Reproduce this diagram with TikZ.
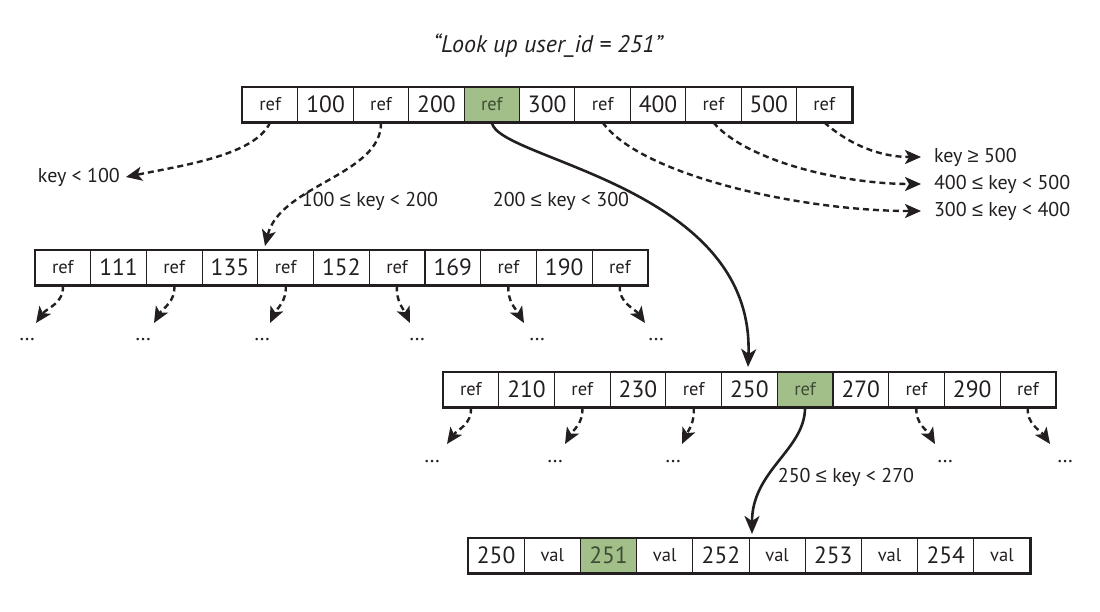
\documentclass[tikz,border=0pt]{standalone}
\usepackage{fontspec}
\setmainfont{PT Sans}
\newfontfamily\symfont{Liberation Sans}
\newcommand\myle{{\symfont ≤}}
\newcommand\myge{{\symfont ≥}}
\usetikzlibrary{arrows.meta}
\definecolor{hl}{RGB}{162,191,138}
\definecolor{hltext}{RGB}{62,76,52}
\definecolor{ink}{RGB}{35,31,32}
\begin{document}
\begin{tikzpicture}[x=1pt,y=-1pt,
  cell/.style={draw=ink, line width=0.8pt, minimum width=55.6pt, minimum height=35pt, inner sep=0pt, text=ink},
  frame/.style={draw=ink, line width=2.2pt},
  dasharrow/.style={draw=ink, line width=2.4pt, dash pattern=on 6pt off 4pt, -{Stealth[length=16pt,width=14pt,inset=4pt]}},
  solidarrow/.style={draw=ink, line width=2.6pt, -{Stealth[length=18pt,width=15pt,inset=5pt]}},
  lbl/.style={font=\fontsize{20}{20}\selectfont, inner sep=1pt, text=ink},
  lblr/.style={lbl, anchor=west, outer sep=12pt},
  dotsnode/.style={font=\fontsize{21}{21}\selectfont, inner sep=0pt, text=ink}
]
\useasboundingbox (0,0) rectangle (1100,611);
\fill[white] (0,0) rectangle (1100,611);

% title
\node[font=\itshape\fontsize{24}{24}\selectfont, text=ink] (title) at (548,46) {“Look up user\_id = 251”};

% top node
\foreach \t/\f/\c [count=\i] in {ref/white/ink,100/white/ink,ref/white/ink,200/white/ink,ref/hl/hltext,300/white/ink,ref/white/ink,400/white/ink,ref/white/ink,500/white/ink,ref/white/ink}
  \node[cell, fill=\f, text=\c] (t\i) at ({242.5+55.4*(\i-0.5)},104.5)
    {\ifodd\i\fontsize{18.5}{18.5}\selectfont\else\fontsize{23.5}{23.5}\selectfont\fi\t};
\draw[frame] (t1.north west) rectangle (t11.south east);

% middle-left node
\foreach \t [count=\i] in {ref,111,ref,135,ref,152,ref,169,ref,190,ref}
  \node[cell, fill=white] (m\i) at ({35+55.7*(\i-0.5)},267.5)
    {\ifodd\i\fontsize{18.5}{18.5}\selectfont\else\fontsize{23.5}{23.5}\selectfont\fi\t};
\draw[frame] (m1.north west) rectangle (m11.south east);

% lower node
\foreach \t/\f/\c [count=\i] in {ref/white/ink,210/white/ink,ref/white/ink,230/white/ink,ref/white/ink,250/white/ink,ref/hl/hltext,270/white/ink,ref/white/ink,290/white/ink,ref/white/ink}
  \node[cell, fill=\f, text=\c] (l\i) at ({443+55.7*(\i-0.5)},389.5)
    {\ifodd\i\fontsize{18.5}{18.5}\selectfont\else\fontsize{23.5}{23.5}\selectfont\fi\t};
\draw[frame] (l1.north west) rectangle (l11.south east);

% leaf node
\foreach \t/\f/\c [count=\i] in {250/white/ink,val/white/ink,251/hl/hltext,val/white/ink,252/white/ink,val/white/ink,253/white/ink,val/white/ink,254/white/ink,val/white/ink}
  \node[cell, fill=\f, text=\c, minimum width=56.2pt] (v\i) at ({468+56.2*(\i-0.5)},555.5)
    {\ifodd\i\fontsize{23.5}{23.5}\selectfont\else\fontsize{18.5}{18.5}\selectfont\fi\t};
\draw[frame] (v1.north west) rectangle (v10.south east);

% labels
\node[lbl, anchor=east] (k100) at (121,177) {key < 100};
\node[lbl] (k200) at (370,201) {100 \myle{} key < 200};
\node[lbl] (k300) at (561,201) {200 \myle{} key < 300};
\node[lblr] (k500) at (921,157) {key \myge{} 500};
\node[lblr] (k450) at (921,184) {400 \myle{} key < 500};
\node[lblr] (k350) at (921,211) {300 \myle{} key < 400};
\node[lbl] (k270) at (846,477) {250 \myle{} key < 270};

% coordinates for arrow tips
\coordinate (c2) at (265,246);
\coordinate (c3) at (748,367);
\coordinate (c4) at (752,534);

% top-level pointers
\draw[dasharrow] (t1.south) .. controls (255,155) and (185,165) .. ([xshift=5pt]k100.east);
\draw[dasharrow] (t3.south) .. controls (382,175) and (280,185) .. (c2);
\draw[solidarrow] (t5.south) .. controls (497,160) and (755,185) .. (c3);
\draw[dasharrow] (t7.south) .. controls (640,175) and (800,211) .. (k350.west);
\draw[dasharrow] (t9.south) .. controls (745,160) and (840,184) .. (k450.west);
\draw[dasharrow] (t11.south) .. controls (850,145) and (880,157) .. (k500.west);

% middle node pointers
\foreach \tx/\dx [count=\k] in {36/27,154/143,270/262,410/417,524/537,645/656}{
  \coordinate (mt\k) at (\tx,323);
  \node[dotsnode] (md\k) at (\dx,340) {…};
}
\draw[dasharrow] (m1.south) to[out=-85,in=55] (mt1);
\draw[dasharrow] (m3.south) to[out=-85,in=60] (mt2);
\draw[dasharrow] (m5.south) to[out=-85,in=65] (mt3);
\draw[dasharrow] (m7.south) to[out=-95,in=115] (mt4);
\draw[dasharrow] (m9.south) to[out=-95,in=120] (mt5);
\draw[dasharrow] (m11.south) to[out=-95,in=125] (mt6);

% lower node pointers
\foreach \tx/\dx [count=\k] in {447/432,565/555,682/673,935/945,1050/1065}{
  \coordinate (lt\k) at (\tx,444);
  \node[dotsnode] (ld\k) at (\dx,462) {…};
}
\draw[dasharrow] (l1.south) to[out=-85,in=55] (lt1);
\draw[dasharrow] (l3.south) to[out=-85,in=60] (lt2);
\draw[dasharrow] (l5.south) to[out=-85,in=65] (lt3);
\draw[dasharrow] (l9.south) to[out=-95,in=120] (lt4);
\draw[dasharrow] (l11.south) to[out=-95,in=125] (lt5);

% leaf pointer
\draw[solidarrow] (l7.south) .. controls (805,450) and (752,470) .. (c4);
\end{tikzpicture}
\end{document}
